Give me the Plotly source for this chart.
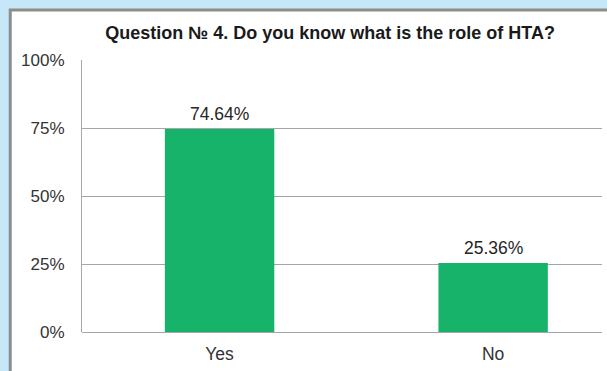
import plotly.graph_objects as go

categories = ["Yes", "No"]
shares = [74.64, 25.36]
y_ticks = [0, 25, 50, 75, 100]
y_tick_labels = ["0%", "25%", "50%", "75%", "100%"]

BAR_GREEN = "#17B36A"
FONT = "Liberation Sans, Arial, sans-serif"
TEXT_SIZE = 17.5

fig = go.Figure()
fig.add_trace(go.Bar(
    x=list(range(len(categories))),
    y=shares,
    width=0.4,
    marker=dict(color=BAR_GREEN, line=dict(width=0)),
    hoverinfo="skip",
))

# value labels above each bar
for i, v in enumerate(shares):
    fig.add_annotation(
        x=i, y=v, xref="x", yref="y",
        text=f"{v:.2f}%", showarrow=False,
        yanchor="bottom", yshift=3,
        font=dict(family=FONT, size=TEXT_SIZE, color="#262626"),
    )

# white chart panel with grey frame on a light-blue page
fig.add_shape(
    type="rect", xref="paper", yref="paper",
    x0=-0.138, x1=1.06, y0=-0.2, y1=1.184,
    fillcolor="white", line=dict(color="#8C8C8C", width=3),
    layer="below",
)

fig.update_layout(
    width=607, height=371,
    margin=dict(l=82, r=5, t=60, b=39),
    paper_bgcolor="#C6E7F8",
    plot_bgcolor="white",
    showlegend=False,
    title=dict(
        text="<b>Question № 4. Do you know what is the role of HTA?</b>",
        x=0.477, xref="paper", xanchor="center",
        y=0.911, yref="container", yanchor="middle",
        font=dict(family=FONT, size=18, color="#1A1A1A"),
    ),
    font=dict(family=FONT, size=TEXT_SIZE, color="#333333"),
)

fig.update_xaxes(
    range=[-0.503, 1.398],
    tickvals=list(range(len(categories))),
    ticktext=categories,
    ticks="", showgrid=False, zeroline=False,
    showline=False,
    ticklabelstandoff=9,
    tickfont=dict(family=FONT, size=TEXT_SIZE, color="#333333"),
    fixedrange=True,
)
fig.update_yaxes(
    range=[0, 100],
    tickvals=y_ticks, ticktext=y_tick_labels,
    showgrid=True, gridcolor="#A6A6A6", gridwidth=1,
    zeroline=True, zerolinecolor="#A6A6A6", zerolinewidth=1,
    showline=True, linecolor="#A6A6A6", linewidth=1,
    ticks="", ticklabelstandoff=13,
    tickfont=dict(family=FONT, size=17, color="#333333"),
    fixedrange=True,
)

fig.write_html("out.html")
